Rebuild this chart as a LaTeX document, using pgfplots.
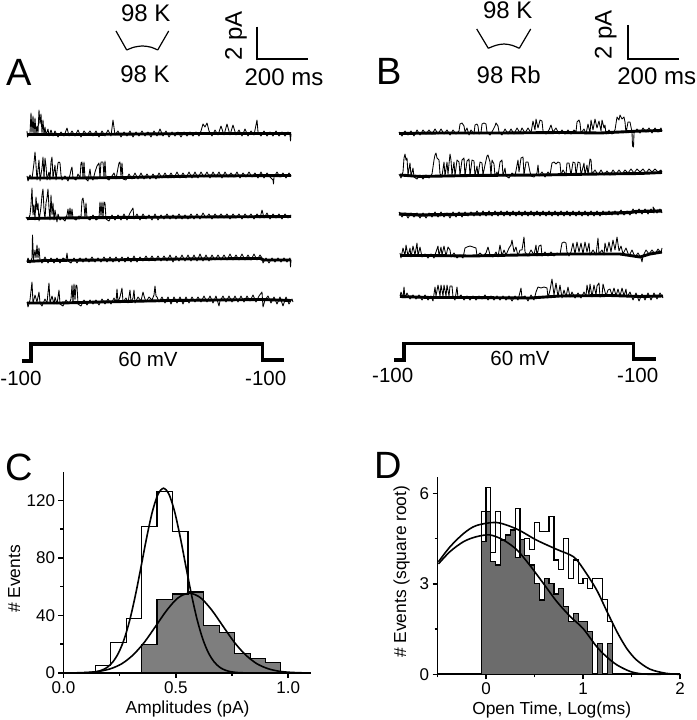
\documentclass[border=0pt]{standalone}
\usepackage{pgfplots}
\usepackage{fontspec}
\setmainfont{Liberation Sans}
\pgfplotsset{compat=1.18}
\definecolor{cgray}{HTML}{7E7E7E}
\definecolor{dgray}{HTML}{6C6C6C}
\newcommand{\fs}[1]{\fontsize{#1}{#1}\selectfont}
\pgfplotsset{
  band/.style={black,line width=2.9pt,no marks,line join=round},
  noisy/.style={black,line width=0.85pt,no marks,line join=round},
  bar/.style={black,line width=2.1pt,no marks},
  vstep/.style={black,line width=3.3pt,no marks,line join=miter},
  pore/.style={black,line width=1.2pt,no marks},
  panel/.style={
    axis x line=bottom,axis y line=left,axis line style={-,line width=1.9pt},
    scale only axis,anchor=south west,clip=false,
    tick align=outside,tick style={black,line width=1.5pt},
    major tick length=5pt,minor tick length=3pt,
    tick label style={font=\fs{17},/pgf/number format/assume math mode=true},
    label style={font=\fs{17.4}},
  },
  hopen/.style={const plot,black,line width=1.2pt,no marks},
  hfill/.style={const plot,draw=black,line width=1.2pt,no marks},
  fit/.style={black,line width=1.6pt,no marks,smooth},
}
\begin{document}
\begin{tikzpicture}
\path[use as bounding box] (0pt,0pt) rectangle (696pt,720pt);
\begin{axis}[at={(0pt,0pt)},anchor=south west,scale only axis,width=696pt,height=720pt,
  xmin=0,xmax=696,ymin=0,ymax=720,y dir=reverse,hide axis,clip=false]
% ---- panel A traces
\addplot[band] coordinates {(27,134.5)(80,134.5)(140,134)(200,133.5)(291,133.5)};
\addplot[noisy] coordinates {(27,131)(27.5,137)(29,134)(30,133)(31,113)(32,133)(33,116)(34,134)(35,118)(36,134)(37,126)(38,133)(39,110)(40,124)(41,114)(42,133)(43,120)(44,135)(45,127)(46,135)(48,129)(49,136)(51,130)(53,136)(55,131)(58,137)(61,132)(64,136)(67,128)(69,136)(72,131)(75,136)(78,130)(81,137)(84,131)(87,135)(90,131)(93,136)(96,131)(99,137)(102,131)(105,136)(108,130)(111,136)(113,120)(115,135)(118,131)(121,137)(124,132)(127,136)(130,131)(133,137)(136,132)(139,136)(142,131)(145,136)(148,132)(151,137)(154,131)(157,136)(160,129)(163,136)(166,131)(169,137)(172,132)(175,136)(178,132)(181,137)(184,132)(187,136)(190,132)(193,136)(196,132)(199,136)(201,131)(203,124)(205,127)(207,123)(209,131)(212,136)(215,130)(218,135)(221,126)(224,135)(227,124)(230,135)(233,125)(236,135)(239,130)(242,136)(245,129)(248,136)(251,131)(254,135)(256,125)(257,120)(258,132)(261,136)(264,131)(267,136)(270,132)(273,136)(276,131)(279,136)(282,132)(285,136)(288,132)(290,135)(290.5,141)(291,134)};
\addplot[band] coordinates {(27,178)(80,178)(125,177.5)(200,176)(291,175.5)};
\addplot[noisy] coordinates {(27,176)(28,181)(30,175)(32,179)(34,163)(35,152)(36,165)(37,180)(38,170)(39,160)(40,181)(42,168)(43,157)(44,178)(45,158)(46,166)(47,180)(49,172)(50,180)(51,162)(52,157)(53,178)(55,165)(56,180)(58,163)(59,162)(60,163)(61,175)(62,180)(65,176)(68,181)(70,175)(71,170)(72,167)(73,178)(76,180)(78,174)(80,178)(81,163)(82,162)(83,178)(84,162)(85,178)(88,181)(90,169)(91,177)(93,180)(95,172)(97,166)(99,163)(100,178)(101,162)(103,162)(104,177)(105,161)(106,178)(109,180)(112,176)(114,173)(116,179)(118,168)(119,163)(120,162)(121,176)(122,163)(123,179)(126,180)(129,174)(132,179)(135,173)(138,179)(141,173)(144,179)(147,174)(150,179)(153,174)(156,179)(159,173)(162,178)(165,173)(168,178)(171,173)(174,178)(177,172)(180,178)(183,173)(186,178)(189,172)(192,178)(195,172)(198,178)(201,172)(204,177)(207,172)(210,178)(213,172)(216,177)(219,172)(222,178)(225,172)(228,177)(231,173)(234,177)(237,172)(240,178)(243,173)(246,177)(249,172)(252,177)(255,173)(258,178)(261,172)(264,178)(267,173)(270,177)(273,180)(273.5,184)(274,177)(277,172)(280,177)(283,173)(286,178)(289,173)(291,176)};
\addplot[band] coordinates {(27,218.5)(60,218)(110,217.5)(200,217)(291,216.5)};
\addplot[noisy] coordinates {(26,217)(28,220)(30,215)(31,205)(32,188)(33,215)(34,205)(35,220)(36,197)(37,210)(38,203)(39,221)(41,207)(42,195)(43,189)(44,210)(45,219)(46,203)(47,198)(48,189)(49,208)(50,220)(51,195)(52,215)(53,203)(54,220)(55,210)(57,222)(58,214)(60,220)(62,218)(65,221)(67,215)(68,209)(69,217)(70,208)(71,217)(72,209)(73,218)(76,220)(79,216)(81,217)(82,200)(83,198)(84,205)(85,217)(86,203)(87,218)(90,220)(93,215)(96,220)(99,218)(100,202)(101,216)(102,202)(103,218)(104,202)(105,203)(106,219)(109,221)(112,215)(115,220)(118,215)(121,220)(124,214)(127,220)(130,213)(133,208)(134,219)(137,214)(140,220)(143,214)(146,219)(149,215)(152,220)(155,214)(158,220)(161,215)(164,219)(167,214)(170,219)(173,215)(176,219)(179,214)(182,219)(185,215)(188,219)(191,214)(194,219)(197,214)(200,219)(203,213)(206,218)(209,214)(212,219)(215,214)(218,218)(221,214)(224,218)(227,214)(230,219)(233,214)(236,218)(239,214)(242,219)(245,214)(248,218)(251,214)(254,219)(257,214)(260,218)(262,210)(264,218)(267,213)(270,219)(273,214)(276,218)(279,214)(282,219)(285,214)(288,218)(291,215)};
\addplot[band] coordinates {(27,261.5)(45,260.5)(100,260)(180,259)(260,258.5)(264,260)(291,260)};
\addplot[noisy] coordinates {(27,262)(28,258)(30,263)(32,258)(32.5,235)(33.5,260)(35,250)(36,258)(37,245)(38,258)(39,248)(40,260)(42,263)(45,257)(48,263)(51,258)(54,263)(57,258)(60,263)(63,258)(66,260)(67,253)(68,261)(71,263)(74,258)(77,263)(80,258)(83,262)(86,258)(89,262)(92,257)(95,262)(98,258)(101,262)(104,257)(107,262)(110,257)(113,262)(116,257)(119,262)(122,257)(125,262)(128,257)(131,262)(134,256)(137,262)(140,257)(143,261)(146,256)(149,261)(152,256)(155,261)(158,256)(161,261)(164,256)(167,261)(170,255)(173,262)(176,256)(179,261)(182,255)(185,261)(188,255)(191,261)(194,255)(197,261)(200,254)(203,261)(206,255)(209,261)(212,255)(215,260)(218,255)(221,260)(224,255)(227,260)(230,254)(233,260)(236,255)(239,260)(242,254)(245,260)(248,255)(251,260)(254,254)(257,260)(260,255)(262,258)(263,263)(266,258)(269,263)(272,258)(275,262)(278,258)(281,262)(284,258)(287,262)(290,258)(290.5,267)(291,260)};
\addplot[band] coordinates {(27,303)(60,303)(100,302)(170,300.5)(262,299.5)(291,300.5)};
\addplot[noisy] coordinates {(27,302)(28,307)(30,300)(32,282)(33,303)(35,295)(37,302)(39,292)(40,303)(42,306)(45,299)(47,303)(49,283)(50,303)(52,296)(54,304)(55,297)(57,304)(59,290)(60,304)(63,306)(66,300)(69,304)(71,299)(72,285)(73,303)(74,284)(75,300)(76,285)(77,286)(78,304)(81,306)(84,300)(87,305)(90,300)(93,304)(96,300)(99,305)(102,299)(105,304)(108,299)(111,304)(114,298)(116,302)(117,289)(118,302)(120,297)(122,288)(123,302)(126,298)(128,303)(130,290)(131,302)(133,298)(134,290)(135,303)(138,297)(141,301)(143,292)(144,296)(146,302)(149,297)(152,300)(154,295)(155,286)(156,296)(157,297)(159,302)(162,297)(165,303)(168,297)(171,304)(174,297)(177,303)(180,297)(183,304)(186,297)(189,303)(192,297)(195,302)(198,297)(201,302)(204,296)(207,302)(210,296)(213,303)(216,296)(219,306)(220,301)(223,296)(226,302)(229,296)(232,302)(235,296)(238,302)(241,296)(244,302)(247,296)(250,301)(253,295)(256,302)(259,296)(262,292)(263,307)(265,300)(268,296)(271,303)(274,297)(277,304)(280,297)(283,306)(286,297)(289,304)(292,299)(293,302)};
% ---- panel B traces
\addplot[band] coordinates {(399,133.5)(440,133)(500,133)(560,132.5)(600,133)(640,131)(662,130.5)};
\addplot[noisy] coordinates {(399,132)(402,136)(405,131)(408,135)(411,131)(414,136)(417,130)(420,135)(423,130)(426,134)(429,130)(432,134)(435,129)(438,134)(441,129)(444,134)(447,130)(450,135)(453,130)(456,134)(459,131)(460,124)(462,123)(464,126)(465,132)(467,128)(469,135)(471,130)(474,134)(475,125)(477,124)(478,126)(479,134)(481,133)(482,124)(484,123)(486,124)(487,132)(490,135)(493,130)(495,126)(496,123)(498,126)(499,132)(502,135)(505,129)(508,134)(511,129)(514,134)(517,128)(520,133)(522,128)(525,133)(528,128)(531,133)(533,121)(535,130)(536,119)(538,128)(540,120)(542,121)(543,131)(546,134)(549,130)(551,125)(553,132)(556,128)(559,134)(562,130)(565,134)(568,130)(571,134)(574,130)(576,132)(577,122)(579,120)(580,123)(581,133)(584,129)(586,134)(588,124)(590,133)(591,120)(593,130)(595,119)(597,128)(599,121)(601,131)(602,120)(604,128)(605,125)(606,134)(609,130)(612,134)(615,130)(617,117)(619,120)(620,115)(622,119)(624,117)(625,122)(626,133)(628,122)(630,122)(632,132)(632.5,146)(633.5,147)(634,133)(637,129)(640,133)(643,128)(646,132)(649,128)(652,133)(655,128)(658,132)(661,128)(662,131)};
\addplot[band] coordinates {(400,175)(420,176.5)(470,175.5)(540,175)(600,174)(640,173.5)(662,172.5)};
\addplot[noisy] coordinates {(399,174)(401,178)(403,172)(404,158)(405,154)(406,160)(407,158)(408,175)(410,163)(411,176)(413,168)(414,177)(417,179)(420,175)(423,179)(426,175)(429,178)(432,174)(434,160)(435,155)(436,153)(437,158)(439,160)(440,174)(442,176)(444,162)(445,176)(447,162)(448,174)(450,154)(451,160)(452,175)(454,162)(455,176)(457,160)(459,162)(460,175)(462,160)(464,158)(465,176)(467,161)(469,159)(470,176)(472,160)(474,161)(475,176)(477,166)(478,176)(480,162)(482,163)(483,175)(485,165)(487,156)(488,155)(490,162)(491,176)(492,160)(494,164)(495,176)(497,172)(498,176)(500,162)(502,160)(503,176)(505,168)(506,176)(509,178)(512,173)(515,176)(518,160)(519,172)(521,158)(523,157)(524,175)(526,162)(528,162)(530,172)(531,176)(534,177)(537,173)(538,165)(539,176)(542,172)(545,177)(548,172)(550,175)(552,163)(554,162)(556,164)(558,162)(560,163)(561,175)(563,170)(566,175)(567,163)(569,163)(571,175)(573,162)(575,163)(576,175)(578,162)(580,163)(581,175)(584,163)(585,175)(587,165)(588,175)(590,159)(591,160)(592,174)(595,170)(598,175)(601,170)(604,175)(607,171)(610,175)(613,170)(616,174)(619,170)(622,174)(625,170)(628,173)(631,169)(634,173)(637,169)(640,172)(643,169)(646,173)(649,169)(652,172)(655,169)(658,172)(661,170)(662,172)};
\addplot[band,line width=3.2pt] coordinates {(399,214)(420,215)(450,214.5)(500,213.5)(550,213.5)(600,213.5)(630,212.5)(636,211.5)(662,211)};
\addplot[noisy] coordinates {(399,212)(402,217)(405,213)(408,218)(411,213)(414,217)(417,213)(420,218)(423,213)(426,218)(429,213)(432,217)(435,212)(438,217)(441,212)(444,217)(447,213)(450,218)(453,212)(456,217)(459,212)(462,217)(465,212)(468,216)(471,212)(474,216)(477,211)(480,216)(483,211)(486,216)(489,211)(492,216)(495,211)(498,216)(501,211)(504,216)(507,211)(510,216)(513,211)(516,216)(519,211)(522,216)(525,211)(528,216)(531,211)(534,216)(537,211)(540,216)(543,211)(546,216)(549,211)(552,216)(555,211)(558,216)(561,211)(564,216)(567,211)(570,216)(573,211)(576,216)(579,211)(582,216)(585,211)(588,216)(591,211)(594,216)(597,211)(600,216)(603,211)(606,215)(609,211)(612,215)(615,211)(618,215)(621,210)(624,215)(627,211)(630,215)(633,209)(636,214)(639,209)(642,214)(645,209)(648,214)(651,209)(654,213)(653,207)(657,213)(660,209)(662,213)};
\addplot[band] coordinates {(400,255.5)(430,255.5)(470,256)(520,255)(570,254)(620,254)(640,257)(650,254)(662,252)};
\addplot[noisy] coordinates {(400,253)(401,258)(403,248)(405,256)(406,245)(408,256)(410,248)(411,257)(413,246)(415,255)(417,243)(418,256)(420,247)(422,257)(425,254)(428,258)(431,254)(434,258)(436,252)(438,246)(439,256)(441,247)(442,255)(444,246)(446,256)(448,247)(450,250)(451,257)(454,253)(457,258)(460,255)(463,258)(465,248)(467,247)(470,246)(473,247)(476,248)(477,256)(480,253)(483,256)(486,253)(488,247)(490,255)(493,257)(496,252)(498,257)(500,245)(502,256)(504,250)(506,255)(509,248)(511,245)(512,240)(514,252)(516,247)(518,256)(520,250)(522,250)(524,237)(525,252)(528,256)(531,250)(534,255)(536,245)(537,256)(539,246)(541,245)(542,256)(545,252)(548,256)(551,252)(554,256)(557,253)(560,254)(562,243)(564,242)(566,243)(567,252)(569,256)(571,252)(573,243)(575,254)(577,242)(579,252)(581,243)(583,254)(585,242)(587,252)(589,243)(590,255)(593,250)(596,255)(598,238)(599,254)(602,250)(604,255)(605,243)(607,252)(609,242)(611,252)(613,240)(615,250)(617,237)(619,251)(621,246)(623,254)(626,248)(629,256)(632,250)(635,257)(638,253)(641,258)(642,262)(643,256)(646,250)(649,254)(652,250)(655,254)(658,249)(661,253)(662,248)};
\addplot[band] coordinates {(400,296.5)(430,297.5)(470,297.5)(530,298)(560,296)(610,295.5)(640,296.5)(663,296)};
\addplot[noisy] coordinates {(400,296)(401,292)(403,298)(404,287)(405,298)(407,293)(410,299)(413,295)(416,299)(419,295)(422,300)(425,295)(428,300)(431,296)(433,301)(435,287)(436,296)(438,285)(440,296)(441,285)(443,296)(444,285)(446,296)(447,285)(449,296)(450,286)(452,286)(453,297)(455,300)(457,287)(458,298)(461,295)(464,300)(467,296)(470,300)(473,296)(476,300)(479,296)(482,299)(485,295)(488,300)(491,296)(494,300)(497,296)(500,300)(503,296)(506,300)(509,296)(512,301)(515,296)(518,300)(521,288)(522,298)(525,296)(528,301)(531,295)(534,300)(536,292)(538,287)(541,288)(544,287)(547,288)(548,298)(550,290)(552,279)(554,295)(556,283)(558,297)(560,285)(562,298)(564,290)(566,297)(568,287)(570,297)(572,292)(575,298)(578,293)(581,298)(584,292)(586,296)(587,285)(589,295)(590,284)(592,297)(594,285)(596,295)(597,286)(599,283)(600,297)(602,296)(603,284)(604,288)(606,296)(608,290)(610,289)(612,295)(614,288)(616,296)(618,289)(620,296)(622,288)(624,296)(626,289)(627,297)(630,292)(633,300)(636,293)(639,301)(642,294)(645,300)(648,293)(651,300)(654,293)(657,299)(660,293)(663,298)};
% ---- scale bars and pores
\addplot[bar] coordinates {(256.7,26.7)(256.7,59.3)(308.3,59.3)};
\addplot[bar] coordinates {(627.7,25)(627.7,59.3)(679,59.3)};
\addplot[pore] coordinates {(116,31)(126.7,50)};
\addplot[pore,smooth] coordinates {(126.7,50)(134,47.2)(142.7,46)(151,47.2)(157.7,50)};
\addplot[pore] coordinates {(157.7,50)(168.7,31)};
\addplot[pore] coordinates {(476.7,29)(488.3,48.3)};
\addplot[pore,smooth] coordinates {(488.3,48.3)(496,45.3)(504,44)(512,45.3)(519.3,48.3)};
\addplot[pore] coordinates {(519.3,48.3)(530.7,29)};
% ---- voltage steps
\addplot[vstep] coordinates {(21.7,361)(31,361)(31,344)(262.3,344)(262.3,360)(284.3,360)};
\addplot[vstep] coordinates {(394,360)(404,360)(404,343.7)(633.3,343.7)(633.3,359)(655.7,359)};
% ---- text
\node[font=\fs{24}] at (145.7,13.3) {98 K};
\node[font=\fs{24}] at (145,74.7) {98 K};
\node[font=\fs{24}] at (507.7,10) {98 K};
\node[font=\fs{24}] at (508.7,75.3) {98 Rb};
\node[font=\fs{24},rotate=90] at (236,36) {2 pA};
\node[font=\fs{24},rotate=90] at (605.7,35) {2 pA};
\node[font=\fs{24}] at (284,77) {200 ms};
\node[font=\fs{24}] at (656.7,76) {200 ms};
\node[font=\fs{38}] at (19,72.7) {A};
\node[font=\fs{38}] at (389.3,71) {B};
\node[font=\fs{38}] at (19,467) {C};
\node[font=\fs{38}] at (388,465) {D};
\node[font=\fs{20.5}] at (148,359.3) {60 mV};
\node[font=\fs{20.5}] at (21,378.3) {-100};
\node[font=\fs{20.5}] at (265.7,378) {-100};
\node[font=\fs{20.5}] at (520,358.3) {60 mV};
\node[font=\fs{20.5}] at (392.7,375.7) {-100};
\node[font=\fs{20.5}] at (637.7,375.7) {-100};
\end{axis}
% ---- panel C
\begin{axis}[panel,at={(63.5pt,47pt)},width=247.2pt,height=201.3pt,
  xmin=0,xmax=1.1,ymin=0,ymax=140,
  xtick={0,0.5,1},xticklabels={0.0,0.5,1.0},minor xtick={0.25,0.75},
  ytick={0,40,80,120},yticklabels={0,40,80,120},minor ytick={20,60,100},
  xlabel={Amplitudes (pA)},ylabel={\# Events},
  xlabel style={at={(axis description cs:0.502,-0.179)},anchor=center},
  ylabel style={at={(axis description cs:-0.199,0.467)},anchor=center}]
\addplot[hopen] coordinates {(0.141,5)(0.21,21)(0.279,38)(0.347,102)(0.416,126.5)(0.486,98.6)(0.554,56)(0.624,0)} \closedcycle;
\addplot[hfill,fill=cgray] coordinates {(0.347,20)(0.416,51)(0.486,55)(0.554,56.4)(0.624,33)(0.693,28)(0.761,13.5)(0.831,10)(0.899,7.5)(0.967,0)} \closedcycle;
\addplot[fit] coordinates {(0.05,0)(0.095,0.15)(0.12,0.37)(0.145,0.88)(0.17,1.95)(0.195,4)(0.22,7.8)(0.245,14)(0.27,23.5)(0.295,36.9)(0.32,54.1)(0.345,73.8)(0.37,94.1)(0.395,111.9)(0.42,124.1)(0.445,128.5)(0.47,124.1)(0.495,111.9)(0.52,94.1)(0.545,73.8)(0.57,54.1)(0.595,36.9)(0.62,23.5)(0.645,14)(0.67,7.8)(0.695,4)(0.72,1.95)(0.745,0.88)(0.77,0.37)(0.795,0.15)(0.85,0)};
\addplot[fit] coordinates {(0.06,0.14)(0.11,0.45)(0.16,1.2)(0.21,3)(0.26,6.5)(0.31,12.6)(0.36,21.4)(0.41,32.5)(0.46,43.7)(0.51,52.3)(0.56,55.5)(0.61,52.3)(0.66,43.7)(0.71,32.5)(0.76,21.4)(0.81,12.6)(0.86,6.5)(0.91,3)(0.96,1.2)(1.01,0.45)(1.06,0.14)};
\end{axis}
% ---- panel D
\begin{axis}[panel,at={(437.5pt,45.7pt)},width=242.5pt,height=197.6pt,
  xmin=-0.5,xmax=2,ymin=0,ymax=6.55,
  xtick={0,1,2},xticklabels={0,1,2},minor xtick={-0.5,0.5,1.5},
  ytick={0,3,6},yticklabels={0,3,6},minor ytick={1.5,4.5},
  xlabel={Open Time, Log(ms)},ylabel={\# Events (square root)},
  xlabel style={at={(axis description cs:0.471,-0.181)},anchor=center},
  ylabel style={at={(axis description cs:-0.148,0.519)},anchor=center}]
\addplot[hopen] coordinates {(-0.05,5.39)(0,6.18)(0.05,4.03)(0.1,5.39)(0.15,3.62)(0.2,4.45)(0.25,4.78)(0.3,5.5)(0.35,3.88)(0.4,4.5)(0.45,4.14)(0.5,5.03)(0.55,4.73)(0.6,4.73)(0.65,5.23)(0.7,3.79)(0.75,3.48)(0.8,4.5)(0.85,3.18)(0.9,3.79)(0.95,3.02)(1,3.18)(1.05,2.85)(1.1,3.18)(1.15,3.18)(1.2,2.47)(1.25,1.75)(1.3,0)} \closedcycle;
\addplot[hfill,fill=dgray] coordinates {(-0.05,4.4)(0,5.39)(0.05,3.75)(0.1,3.62)(0.15,4.45)(0.2,4.62)(0.25,4.78)(0.3,3.88)(0.35,4.48)(0.4,3.95)(0.45,3.62)(0.5,3)(0.55,2.46)(0.6,3.18)(0.65,3)(0.7,2.66)(0.75,2.85)(0.8,2.24)(0.85,1.75)(0.9,2.02)(0.95,1.75)(1,1.75)(1.05,1.41)(1.1,0)(1.15,1.03)(1.2,0)(1.25,1.03)(1.3,0)} \closedcycle;
\addplot[fit] coordinates {(-0.49,3.73)(-0.37,4.23)(-0.23,4.67)(-0.1,4.93)(0.11,5.03)(0.32,4.81)(0.52,4.45)(0.73,4.14)(0.9,3.9)(1,3.51)(1.14,2.8)(1.24,2.13)(1.35,1.41)(1.45,0.86)(1.55,0.48)(1.69,0.17)(1.86,0.03)(2,0)};
\addplot[fit] coordinates {(-0.49,3.66)(-0.37,4.07)(-0.23,4.4)(-0.1,4.56)(0.04,4.62)(0.18,4.45)(0.32,4.12)(0.45,3.62)(0.59,3.02)(0.73,2.41)(0.87,1.91)(1,1.52)(1.14,0.92)(1.24,0.59)(1.35,0.31)(1.49,0.09)(1.62,0.01)(1.8,0)};
\end{axis}
\end{tikzpicture}
\end{document}
